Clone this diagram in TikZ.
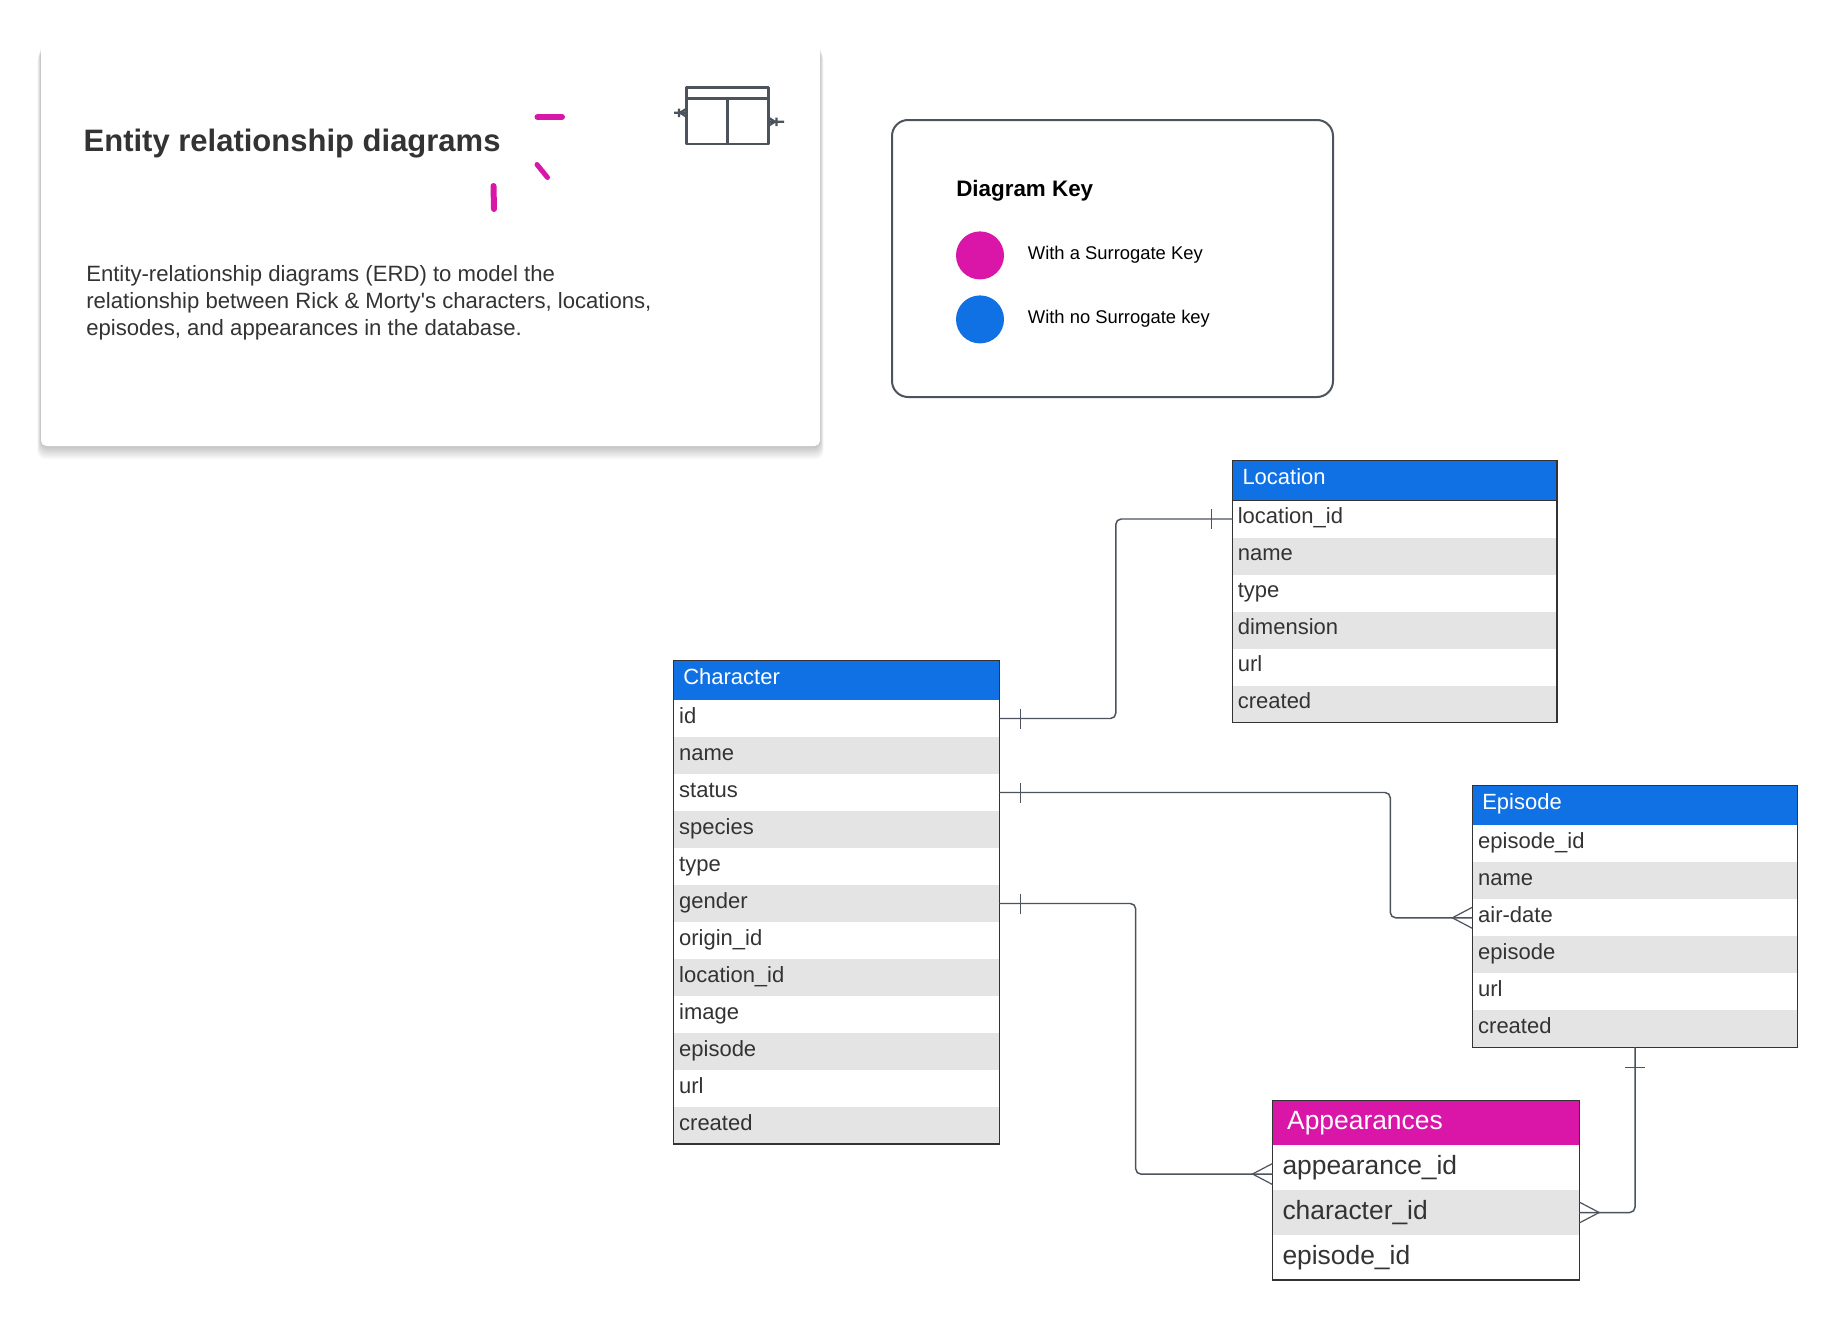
\documentclass[tikz,border=0pt]{standalone}
\usepackage{fontspec}
\setmainfont{Liberation Sans}
\usepackage{tikz}
\usetikzlibrary{calc}
\definecolor{erblue}{HTML}{1071E5}
\definecolor{ermagenta}{HTML}{D916A8}
\definecolor{erstripe}{HTML}{E4E4E4}
\definecolor{erline}{HTML}{4C535D}
\definecolor{ertext}{HTML}{333333}
\tikzstyle{conn}=[draw=erline, line width=1.1pt, rounded corners=4pt]
\tikzstyle{endmark}=[draw=erline, line width=0.9pt]
\tikzstyle{tableframe}=[draw=ertext, line width=1pt]
\tikzstyle{cell}=[anchor=north west, inner ysep=0pt, inner xsep=4.4pt, outer sep=0pt,
                  minimum height=27.75pt, text height=12pt, text depth=5pt,
                  align=left, text=ertext,
                  font=\fontsize{16.5}{20}\selectfont]
\tikzstyle{rowa}=[cell, fill=white]
\tikzstyle{rowb}=[cell, fill=erstripe]
\tikzstyle{bigrow}=[minimum height=33.75pt, text height=15.9pt, text depth=6pt,
                    inner xsep=7.5pt, font=\fontsize{19.8}{24}\selectfont]
\tikzstyle{head}=[anchor=north west, inner ysep=0pt, inner xsep=7.5pt, outer sep=0pt,
                  minimum height=30pt, text height=12pt, text depth=5.5pt,
                  align=left, text=white, fill=erblue, draw=ertext,
                  line width=1pt,
                  font=\fontsize{16.5}{20}\selectfont]
\tikzstyle{keydot}=[circle, minimum size=36pt, inner sep=0pt]
\tikzstyle{keytext}=[anchor=base west, inner sep=0pt,
                     font=\fontsize{13.8}{17}\selectfont]
\tikzstyle{pinkstroke}=[draw=ermagenta, line cap=round]

\begin{document}
\begin{tikzpicture}[x=0.75pt, y=-0.75pt]
     \useasboundingbox (0,0) rectangle (1837,1320);
     \fill [white] (0,0) rectangle (1837,1320);

     % intro card
     \foreach \s in {1,...,12}
       \fill [black, opacity=0.02, rounded corners=6pt]
         (41-\s*0.3,41+\s*1) rectangle (820+\s*0.3,446+\s*1.1);
     \node (card) at (41,41) [anchor=north west, fill=white, rounded corners=4pt,
                              minimum width=584.25pt, minimum height=303.75pt,
                              inner sep=0pt, outer sep=0pt]{};
     \node (title) at (83.4,151) [anchor=base west, inner sep=0pt, text=ertext,
                                  font=\fontsize{23.25}{28}\selectfont\bfseries]
       {Entity relationship diagrams};
     \node (intro) at (86,302.7) [anchor=west, inner sep=0pt, align=left, text=ertext,
                                  font=\fontsize{16.6}{20.2}\selectfont]
       {Entity-relationship diagrams (ERD) to model the\\
        relationship between Rick \& Morty\textquotesingle s characters, locations,\\
        episodes, and appearances in the database.};

     % pink strokes
     \draw [pinkstroke, line width=4.5pt] (537.5,117) -- (562,117);
     \draw [pinkstroke, line width=3.75pt] (537,164.5) -- (547.5,177.5);
     \draw [pinkstroke, line width=4.5pt] (493.5,186) -- (494,209);

     % table icon
     \draw [erline, line width=2pt, line join=round] (686.7,87.3) rectangle (768.3,144);
     \draw [erline, line width=2pt] (686.7,98.3) -- (768.3,98.3);
     \draw [erline, line width=2pt] (727.3,98.3) -- (727.3,144);
     \draw [erline, line width=1.6pt] (674,112.7) -- (686.7,112.7)
       (679,108.5) -- (679,117) (686.7,108.5) -- (680,112.7) -- (686.7,117);
     \draw [erline, line width=1.6pt] (768.3,121.7) -- (784,121.7)
       (776.5,117.5) -- (776.5,126) (768.3,117.5) -- (775,121.7) -- (768.3,126);

     % diagram key
     \node (keybox) at (892,120) [anchor=north west, draw=erline, line width=1.5pt,
                                  rounded corners=12pt, minimum width=330.75pt,
                                  minimum height=207.75pt, inner sep=0pt, outer sep=0pt]{};
     \node (keytitle) at (956,196) [anchor=base west, inner sep=0pt,
                                    font=\fontsize{16.8}{20}\selectfont\bfseries]{Diagram Key};
     \node (dotpink) at (980,255.4) [keydot, fill=ermagenta]{};
     \node (dotblue) at (980,319.4) [keydot, fill=erblue]{};
     \node (keypink) at (1027.6,259) [keytext]{With a Surrogate Key};
     \node (keyblue) at (1027.6,323) [keytext]{With no Surrogate key};

     % tables
     \node (chhead) at (673.3,660.3) [head, text width=229.5pt]{Character};
     \foreach \t/\s [count=\i] in {id/rowa,name/rowb,status/rowa,species/rowb,
         type/rowa,gender/rowb,origin\_id/rowa,location\_id/rowb,image/rowa,
         episode/rowb,url/rowa,created/rowb}
       \node (ch\i) at (673.3,{700+37*(\i-1)}) [\s, text width=235.7pt]{\t};
     \draw [tableframe] (chhead.north west) rectangle (ch12.south east);

     \node (lohead) at (1232.5,460.3) [head, text width=228.4pt]{Location};
     \foreach \t/\s [count=\i] in {location\_id/rowa,name/rowb,type/rowa,
         dimension/rowb,url/rowa,created/rowb}
       \node (lo\i) at (1232.5,{500.5+37*(\i-1)}) [\s, text width=235.4pt, inner xsep=4pt]{\t};
     \draw [tableframe] (lohead.north west) rectangle (lo6.south east);

     \node (ephead) at (1472.3,785.3) [head, text width=229.1pt]{Episode};
     \foreach \t/\s [count=\i] in {episode\_id/rowa,name/rowb,air-date/rowa,
         episode/rowb,url/rowa,created/rowb}
       \node (ep\i) at (1472.3,{825.3+37*(\i-1)}) [\s, text width=235.3pt]{\t};
     \draw [tableframe] (ephead.north west) rectangle (ep6.south east);

     \node (aphead) at (1272.5,1100.6) [head, fill=ermagenta, minimum height=33.75pt,
                                        text height=15pt, text depth=6pt,
                                        inner xsep=11pt, text width=208pt,
                                        font=\fontsize{19.8}{24}\selectfont]{Appearances};
     \foreach \t/\s [count=\i] in {appearance\_id/rowa,character\_id/rowb,episode\_id/rowa}
       \node (ap\i) at (1272.5,{1145+45*(\i-1)}) [\s, bigrow, text width=215pt]{\t};
     \draw [tableframe] (aphead.north west) rectangle (ap3.south east);

     % connectors
     \draw [conn] (ch1.east) -- ++(116.5,0) |- (lo1.west);
     \draw [conn] (ch3.east) -- ++(391,0) |- (ep3.west);
     \draw [conn] (ch6.east) -- ++(136.4,0) |- ([yshift=-5pt]ap1.west);
     \draw [conn] (ep6.south) |- (ap2.east);

     % one ends
     \foreach \u in {ch1,ch3,ch6}
       \draw [endmark] ($(\u.east)+(21,-10)$) -- ++(0,20);
     \draw [endmark] ($(lo1.west)+(-21,-10)$) -- ++(0,20);
     \draw [endmark] ($(ep6.south)+(-10,20)$) -- ++(20,0);

     % many ends
     \draw [endmark] ($(ep3.west)+(0,-10.5)$) -- ++(-20,10.5) -- ++(20,10.5);
     \draw [endmark] ($(ap1.west)+(0,-4)$) -- ++(-20,10.5) -- ++(20,10.5);
     \draw [endmark] ($(ap2.east)+(0,-10.5)$) -- ++(20,10.5) -- ++(-20,10.5);
     \end{tikzpicture}
\end{document}
